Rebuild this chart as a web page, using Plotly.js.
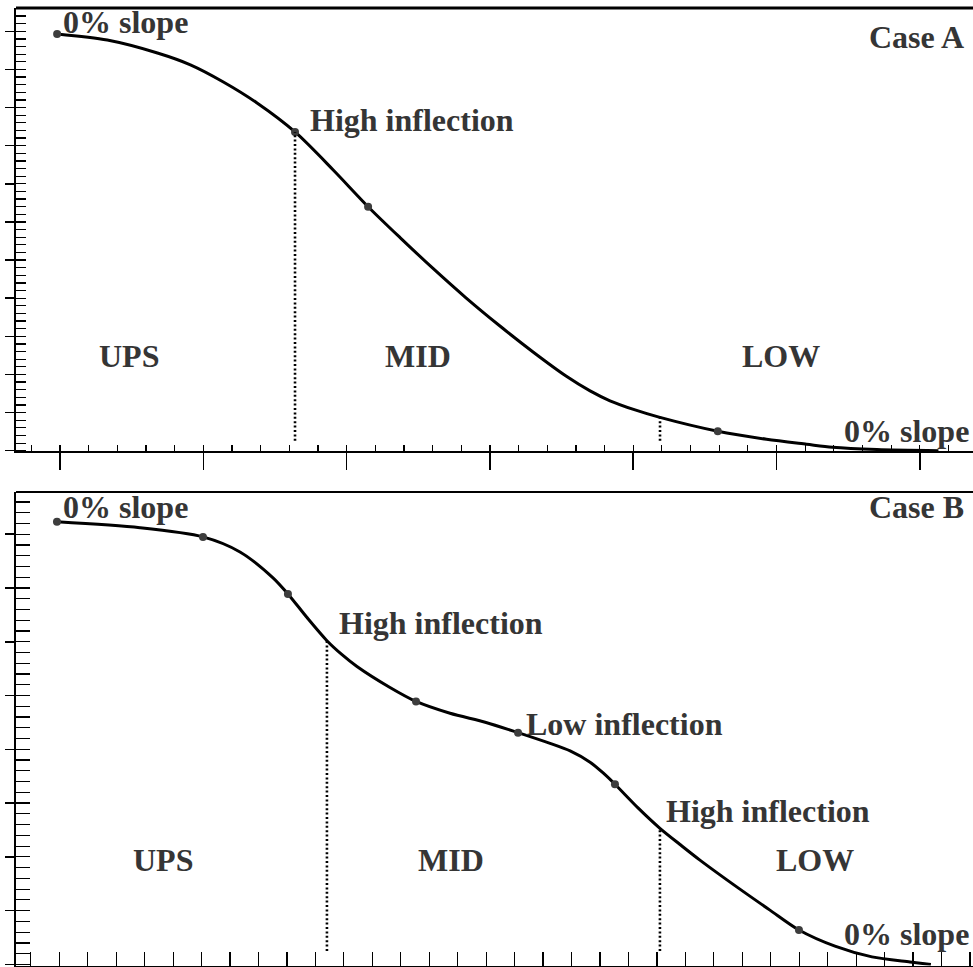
<!DOCTYPE html>
<html>
<head>
<meta charset="utf-8">
<script src="https://cdn.plot.ly/plotly-3.0.1.min.js"></script>
<style>html,body{margin:0;padding:0;background:#fff;}#chart{width:973px;height:967px;}</style>
</head>
<body>
<div id="chart"></div>
<script>
// ---------- Case A (top panel) ----------
const caseA_x = [-0.02, 0.33, 0.68, 0.91, 1.14, 1.375, 1.64, 1.905, 2.15, 2.373, 2.603, 2.833, 3.070, 3.301, 3.531, 3.699, 3.838, 4.013, 4.18, 4.59, 4.93, 5.21, 5.39, 5.70, 6.13];
const caseA_y = [10.93, 10.77, 10.43, 10.12, 9.67, 9.12, 8.36, 7.37, 6.40, 5.59, 4.78, 4.01, 3.27, 2.59, 1.96, 1.57, 1.31, 1.07, 0.88, 0.51, 0.30, 0.17, 0.09, 0.03, 0.0];
const caseA_dotX = [-0.02, 1.64, 2.15, 4.59];
const caseA_dotY = [10.93, 8.36, 6.40, 0.51];
const caseA_boundX = [1.64, 4.187];
const caseA_boundTop = [8.36, 0.93];
const caseA_boundBottom = [0.26, 0.26];

// ---------- Case B (bottom panel) ----------
const caseB_x = [-0.016, 0.567, 1.01, 1.27, 1.502, 1.607, 1.741, 1.881, 1.987, 2.092, 2.324, 2.507, 2.746, 2.999, 3.224, 3.449, 3.590, 3.730, 3.822, 3.905, 4.067, 4.221, 4.362, 4.502, 4.783, 4.994, 5.198, 5.451, 5.711, 5.978, 6.125];
const caseB_y = [8.23, 8.12, 7.95, 7.67, 7.19, 6.89, 6.45, 6.02, 5.76, 5.54, 5.15, 4.89, 4.67, 4.50, 4.31, 4.11, 3.97, 3.76, 3.56, 3.35, 2.91, 2.53, 2.23, 1.94, 1.40, 1.01, 0.64, 0.34, 0.14, 0.046, 0.0];
const caseB_dotX = [-0.016, 1.01, 1.607, 2.507, 3.224, 3.905, 5.198];
const caseB_dotY = [8.23, 7.95, 6.89, 4.89, 4.31, 3.35, 0.64];
const caseB_boundX = [1.881, 4.221];
const caseB_boundTop = [6.02, 2.53];
const caseB_boundBottom = [0.25, 0.25];

// ---------- labels ----------
const labelsA = ["0% slope", "High inflection", "Case A", "UPS", "MID", "LOW", "0% slope"];
const labelsB = ["0% slope", "Case B", "High inflection", "Low inflection", "High inflection", "UPS", "MID", "LOW", "0% slope"];

// layout positions of labels (data coordinates of each panel)
const posA = [[0.007, 11.24, 'left'], [1.731, 8.678, 'left'], [6.32, 10.851, 'right'], [0.258, 2.474, 'left'], [2.254, 2.474, 'left'], [4.745, 2.474, 'left'], [6.357, 0.51, 'right']];
const posB = [[0.012, 8.506, 'left'], [6.37, 8.506, 'right'], [1.951, 6.354, 'left'], [3.266, 4.462, 'left'], [4.249, 2.848, 'left'], [0.504, 1.939, 'left'], [2.507, 1.939, 'left'], [5.023, 1.939, 'left'], [6.407, 0.566, 'right']];

const curveLine = {color: '#000', width: 3, shape: 'spline', smoothing: 0.8};
const dotMarker = {color: '#3d3d3d', size: 8};
const dotLine = {color: '#000', width: 2.6, dash: '2px,2.4px'};

const traces = [];
traces.push({x: caseA_x, y: caseA_y, mode: 'lines', line: curveLine, xaxis: 'x', yaxis: 'y', hoverinfo: 'skip'});
traces.push({x: caseA_dotX, y: caseA_dotY, mode: 'markers', marker: dotMarker, xaxis: 'x', yaxis: 'y', cliponaxis: false});
caseA_boundX.forEach((bx, i) => {
  traces.push({x: [bx, bx], y: [caseA_boundBottom[i], caseA_boundTop[i]], mode: 'lines', line: dotLine, xaxis: 'x', yaxis: 'y'});
});
traces.push({x: caseB_x, y: caseB_y, mode: 'lines', line: curveLine, xaxis: 'x2', yaxis: 'y2', hoverinfo: 'skip'});
traces.push({x: caseB_dotX, y: caseB_dotY, mode: 'markers', marker: dotMarker, xaxis: 'x2', yaxis: 'y2', cliponaxis: false});
caseB_boundX.forEach((bx, i) => {
  traces.push({x: [bx, bx], y: [caseB_boundBottom[i], caseB_boundTop[i]], mode: 'lines', line: dotLine, xaxis: 'x2', yaxis: 'y2'});
});

const textFont = {family: 'Liberation Serif, Times New Roman, serif', size: 32, color: '#353535', weight: 'bold'};
const annotations = [];
labelsA.forEach((t, i) => annotations.push({text: t, x: posA[i][0], y: posA[i][1], xref: 'x', yref: 'y', xanchor: posA[i][2], yanchor: 'middle', showarrow: false, font: textFont}));
labelsB.forEach((t, i) => annotations.push({text: t, x: posB[i][0], y: posB[i][1], xref: 'x2', yref: 'y2', xanchor: posB[i][2], yanchor: 'middle', showarrow: false, font: textFont}));

const base = {showgrid: false, zeroline: false, showticklabels: false, tickcolor: '#000', linecolor: '#000', fixedrange: true};
const rangeX1 = [-0.307, 6.371];
const rangeY1 = [-0.02, 11.61];
const rangeX2 = [-0.304, 6.421];
const rangeY2 = [-0.02, 8.785];
const domY1 = [0.5331, 0.9917];
const domY2 = [0.00155, 0.4912];

function minor(len) {
  return {ticks: 'inside', tick0: 0, dtick: 0.2, ticklen: len, tickwidth: 1.2, tickcolor: '#000', showgrid: false};
}

const layout = {
  width: 973, height: 967,
  margin: {l: 16, r: 0, t: 0, b: 0, pad: 0},
  paper_bgcolor: '#fff', plot_bgcolor: '#fff',
  showlegend: false,
  xaxis: Object.assign({}, base, {domain: [0, 1], anchor: 'y', range: rangeX1, tick0: 0, dtick: 1, ticks: 'outside', ticklen: 17, tickwidth: 1.5, showline: true, linewidth: 2, minor: minor(6)}),
  yaxis: Object.assign({}, base, {domain: domY1, anchor: 'x', range: rangeY1, tick0: 0, dtick: 1, ticks: 'outside', ticklen: 9, tickwidth: 1.5, showline: true, linewidth: 2, minor: minor(10)}),
  xaxis2: Object.assign({}, base, {domain: [0, 1], anchor: 'y2', range: rangeX2, tick0: 0, dtick: 1, ticks: 'outside', ticklen: 9, tickwidth: 1.5, showline: true, linewidth: 2, minor: minor(14)}),
  yaxis2: Object.assign({}, base, {domain: domY2, anchor: 'x2', range: rangeY2, tick0: 0, dtick: 1, ticks: 'outside', ticklen: 9, tickwidth: 1.5, showline: true, linewidth: 2, minor: minor(14)}),
  shapes: [
    {type: 'line', xref: 'paper', yref: 'paper', x0: 0, x1: 1, y0: domY1[1], y1: domY1[1], line: {color: '#000', width: 3}},
    {type: 'line', xref: 'paper', yref: 'paper', x0: 0, x1: 1, y0: domY2[1], y1: domY2[1], line: {color: '#000', width: 2}}
  ],
  annotations: annotations
};

Plotly.newPlot('chart', traces, layout, {staticPlot: true, displayModeBar: false});
</script>
</body>
</html>
